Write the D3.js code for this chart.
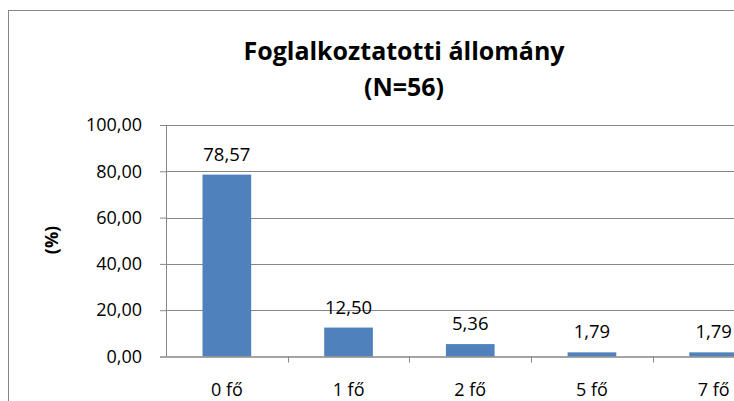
<!DOCTYPE html>
<html>
<head>
<meta charset="utf-8">
<script src="https://cdn.jsdelivr.net/npm/d3@7"></script>
<style>
  body { margin: 0; overflow: hidden; background: #fff; }
  text { font-family: "Open Sans", sans-serif; fill: #000; }
</style>
</head>
<body>
<script>
var categories = ["0 fő", "1 fő", "2 fő", "5 fő", "7 fő"];
var values = [78.57, 12.50, 5.36, 1.79, 1.79];
var yTicks = [0, 20, 40, 60, 80, 100];
var titleLines = ["Foglalkoztatotti állomány", "(N=56)"];

var fmt = function(d){ return d3.format(".2f")(d).replace(".", ","); };

var svg = d3.select("body").append("svg").attr("width", 800).attr("height", 420);

// chart frame (runs past the right and bottom edge, like the cropped screenshot)
svg.append("rect")
      .attr("x", 8.5).attr("y", 10.5)
      .attr("width", 800).attr("height", 420)
      .attr("fill", "#fff")
      .attr("stroke", "#868686");

var plotLeft = 166, plotTop = 125, plotBottom = 356.5, plotRight = 774.5;

var x = d3.scaleBand().domain(categories).range([plotLeft, plotRight]).paddingInner(0.6).paddingOuter(0.3);
var band = d3.scaleBand().domain(categories).range([plotLeft, plotRight]);
var y = d3.scaleLinear().domain([0, 100]).range([plotBottom, plotTop]);

// gridlines
svg.append("g").selectAll("line")
      .data(yTicks.slice(1))
      .enter().append("line")
      .attr("x1", plotLeft).attr("x2", plotRight)
      .attr("y1", function(d){ return Math.round(y(d)) + 0.5; })
      .attr("y2", function(d){ return Math.round(y(d)) + 0.5; })
      .attr("stroke", "#868686");

// y axis
var yAxis = svg.append("g")
      .attr("transform", "translate(" + plotLeft + ",0)")
      .call(d3.axisLeft(y).tickValues(yTicks).tickFormat(fmt).tickSize(6).tickPadding(18));
yAxis.select(".domain").attr("stroke", "#868686");
yAxis.selectAll(".tick line").attr("stroke", "#868686");
yAxis.selectAll(".tick text").attr("font-size", 18).attr("font-family", "Open Sans").attr("fill", "#000");

// bars
svg.append("g").selectAll("rect")
      .data(values)
      .enter().append("rect")
      .attr("x", function(d, i){ return x(categories[i]); })
      .attr("y", function(d){ return y(d); })
      .attr("width", x.bandwidth())
      .attr("height", function(d){ return plotBottom - y(d); })
      .attr("fill", "#4f81bd");

// x axis
var xAxis = svg.append("g")
      .attr("transform", "translate(0," + plotBottom + ")")
      .call(d3.axisBottom(band).tickSize(0).tickPadding(27));
xAxis.select(".domain").attr("stroke", "#868686").attr("stroke-width", 1.5);
xAxis.selectAll(".tick text").attr("font-size", 18).attr("font-family", "Open Sans").attr("fill", "#000");

// category separators
svg.append("g").selectAll("line")
      .data(categories.slice(1))
      .enter().append("line")
      .attr("x1", function(d){ return Math.round(band(d)) + 0.5; })
      .attr("x2", function(d){ return Math.round(band(d)) + 0.5; })
      .attr("y1", plotBottom).attr("y2", plotBottom + 6)
      .attr("stroke", "#868686");

// value labels
svg.append("g").selectAll("text")
      .data(values)
      .enter().append("text")
      .attr("x", function(d, i){ return x(categories[i]) + x.bandwidth() / 2; })
      .attr("y", function(d){ return y(d) - 14; })
      .attr("text-anchor", "middle")
      .attr("font-size", 18.5)
      .text(fmt);

// title
svg.append("text").selectAll("tspan")
      .data(titleLines)
      .enter().append("tspan")
      .attr("x", 404)
      .attr("y", function(d, i){ return 60 + i * 36; })
      .attr("text-anchor", "middle")
      .attr("font-size", 25)
      .attr("font-weight", "bold")
      .text(function(d){ return d; });

// y axis title
svg.append("text")
      .attr("transform", "translate(58,240) rotate(-90)")
      .attr("text-anchor", "middle")
      .attr("font-size", 18)
      .attr("font-weight", "bold")
      .text("(%)");
</script>
</body>
</html>
